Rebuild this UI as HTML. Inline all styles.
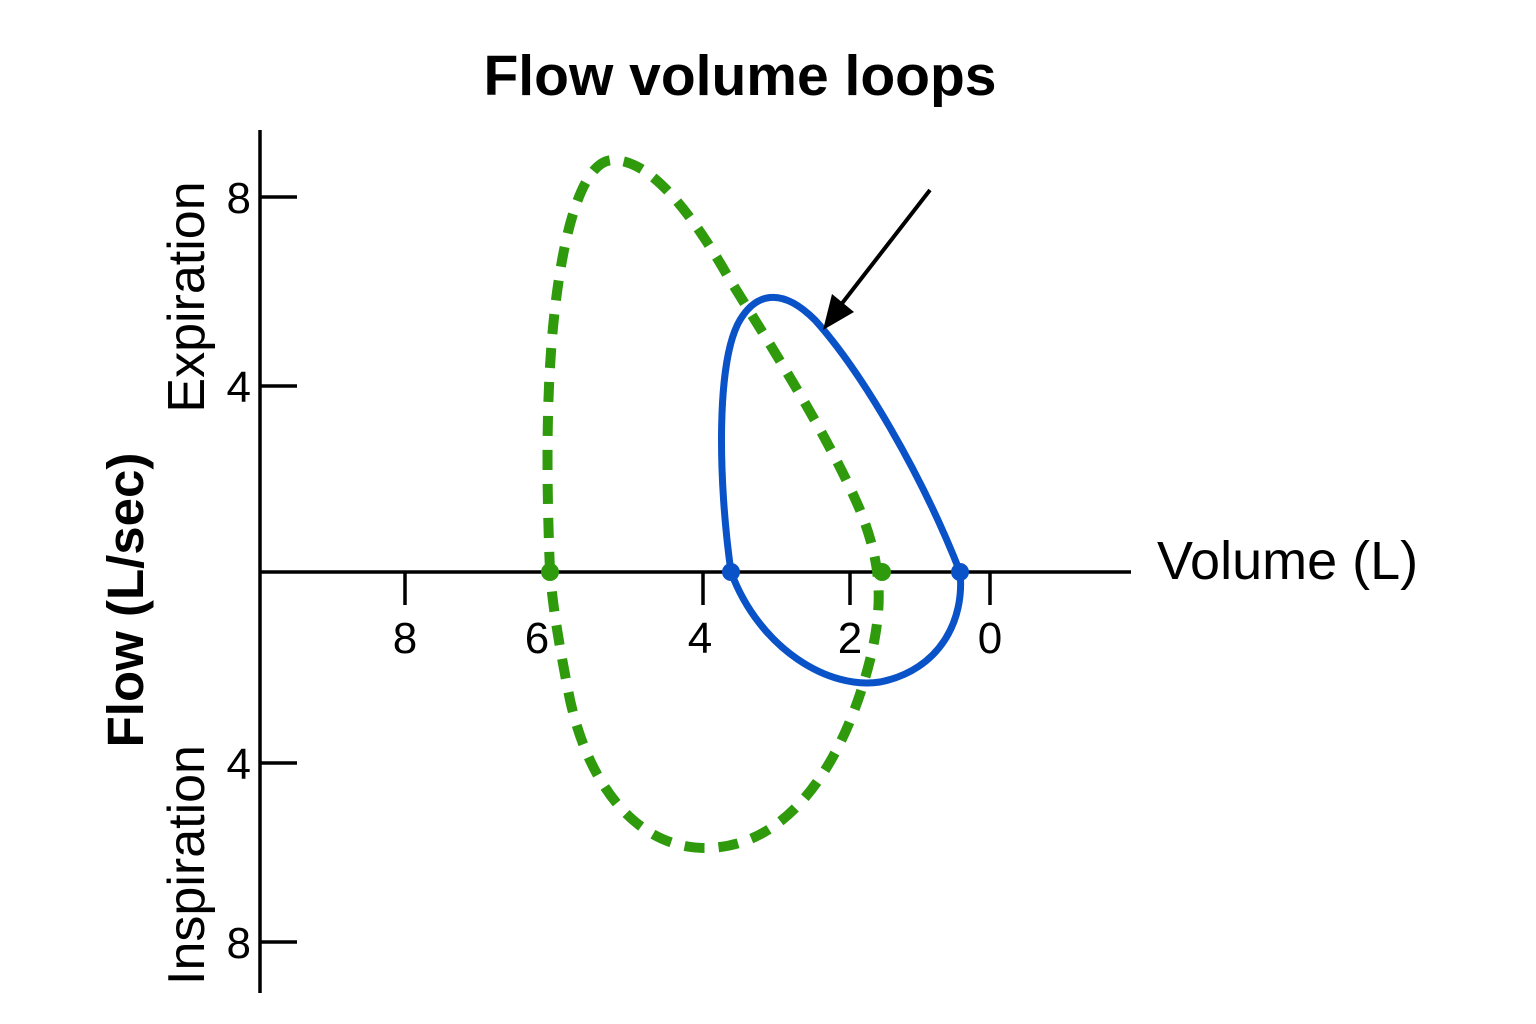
<!DOCTYPE html>
<html><head><meta charset="utf-8"><style>
html,body{margin:0;padding:0;background:#fff;}
svg{display:block;font-family:"Liberation Sans",Arial,sans-serif;}
</style></head><body>
<svg width="1536" height="1024" viewBox="0 0 1536 1024" xmlns="http://www.w3.org/2000/svg">
<rect width="1536" height="1024" fill="#fff"/>
<text x="740" y="95" font-size="57" font-weight="bold" text-anchor="middle">Flow volume loops</text>
<g stroke="#000" stroke-width="3.5" fill="none">
<line x1="260" y1="130" x2="260" y2="993"/>
<line x1="260" y1="572" x2="1131" y2="572"/>
<line x1="260" y1="197" x2="297" y2="197"/>
<line x1="260" y1="386" x2="297" y2="386"/>
<line x1="260" y1="763" x2="297" y2="763"/>
<line x1="260" y1="942" x2="297" y2="942"/>
<line x1="405" y1="572" x2="405" y2="605"/>
<line x1="703" y1="572" x2="703" y2="605"/>
<line x1="850" y1="572" x2="850" y2="605"/>
<line x1="990" y1="572" x2="990" y2="605"/>
</g>
<g font-size="44" text-anchor="end">
<text x="251" y="213">8</text><text x="251" y="402">4</text>
<text x="251" y="779">4</text><text x="251" y="958">8</text>
</g>
<g font-size="44" text-anchor="middle">
<text x="405" y="653">8</text><text x="537" y="653">6</text>
<text x="700" y="653">4</text><text x="850" y="653">2</text><text x="990" y="653">0</text>
</g>
<text x="1157" y="579" font-size="54">Volume (L)</text>
<text transform="translate(204,297) rotate(-90)" font-size="52" text-anchor="middle">Expiration</text>
<text transform="translate(204,865) rotate(-90)" font-size="52" text-anchor="middle">Inspiration</text>
<text transform="translate(143,600) rotate(-90)" font-size="51" font-weight="bold" text-anchor="middle">Flow (L/sec)</text>
<path d="M550,572 C546,470 546,380 556,300 C566,220 585,160 613,160 C650,160 690,210 730,280 C780,360 830,440 860,510 C880,560 885,600 870,660 C850,740 800,848 705,848 C640,848 590,790 570,700 C560,650 553,610 550,572" fill="none" stroke="#2e9a0c" stroke-width="10" stroke-dasharray="20 14"/>
<path d="M731,572 C718,480 716,360 740,320 C755,295 780,285 815,320 C860,370 920,470 960,572 C965,620 940,670 880,682 C830,690 760,650 731,572 Z" fill="none" stroke="#0a52c8" stroke-width="7"/>
<circle cx="550" cy="572" r="9" fill="#2e9a0c"/>
<circle cx="882" cy="572" r="9" fill="#2e9a0c"/>
<circle cx="731" cy="572" r="9" fill="#0a52c8"/>
<circle cx="960" cy="572" r="9" fill="#0a52c8"/>
<line x1="930" y1="190" x2="840" y2="306" stroke="#000" stroke-width="4"/>
<polygon points="823,330 832,294 854,312" fill="#000"/>
</svg>
</body></html>
